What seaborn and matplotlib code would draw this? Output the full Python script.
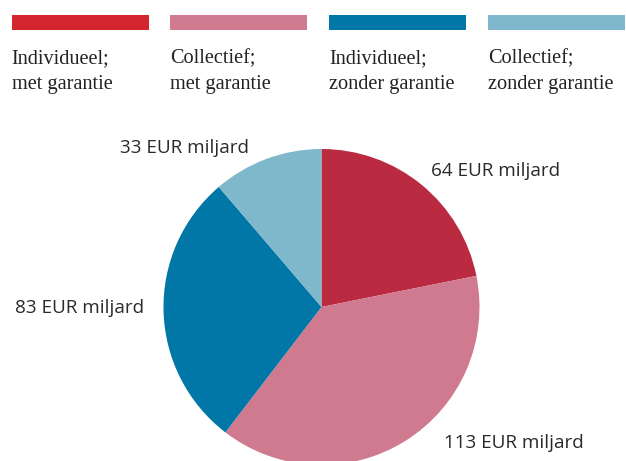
import matplotlib
matplotlib.use("Agg")
import matplotlib.pyplot as plt
import seaborn as sns
from matplotlib.patches import Rectangle

# data
categories = ["Individueel;\nmet garantie", "Collectief;\nmet garantie",
              "Individueel;\nzonder garantie", "Collectief;\nzonder garantie"]
values = [64, 113, 83, 33]
slice_labels = ["64 EUR miljard", "113 EUR miljard", "83 EUR miljard", "33 EUR miljard"]
legend_colors = ["#D3262E", "#D07A8F", "#0077A7", "#7FB8CC"]
pie_colors = ["#BA2B42", "#CF7A8E", "#0077A6", "#7FB7CB"]

sns.set_theme(style="white")

W, H = 626, 461
fig = plt.figure(figsize=(W / 100, H / 100), dpi=100)
ax = fig.add_axes([0, 0, 1, 1])

# pie (pixel coordinates, y measured from bottom)
cx, cy, r = 321.5, H - 307, 158
ax.pie(values, colors=pie_colors, startangle=90, counterclock=False,
       center=(cx, cy), radius=r, frame=True,
       wedgeprops=dict(linewidth=0))

# slice labels, placed by hand like the original
label_pos = [(431, 176), (444, 448), (15, 313), (120, 153)]
for txt, (x, y) in zip(slice_labels, label_pos):
    ax.text(x, H - y, txt, fontsize=13.6, family="Open Sans", color="#2a2a2a",
            ha="left", va="baseline")

# legend row at the top
col_x = [11.5, 170, 329, 488]
for c, x, name in zip(legend_colors, col_x, categories):
    ax.add_patch(Rectangle((x, H - 30), 137, 15, color=c, lw=0))
    l1, l2 = name.split("\n")
    ax.text(x, H - 63, l1, fontsize=14.6, family="Liberation Serif",
            color="#222222", ha="left", va="baseline")
    ax.text(x, H - 89, l2, fontsize=14.6, family="Liberation Serif",
            color="#222222", ha="left", va="baseline")

ax.set_xlim(0, W)
ax.set_ylim(0, H)
ax.set_aspect("equal")
ax.axis("off")

plt.savefig("out.png", dpi=100)
